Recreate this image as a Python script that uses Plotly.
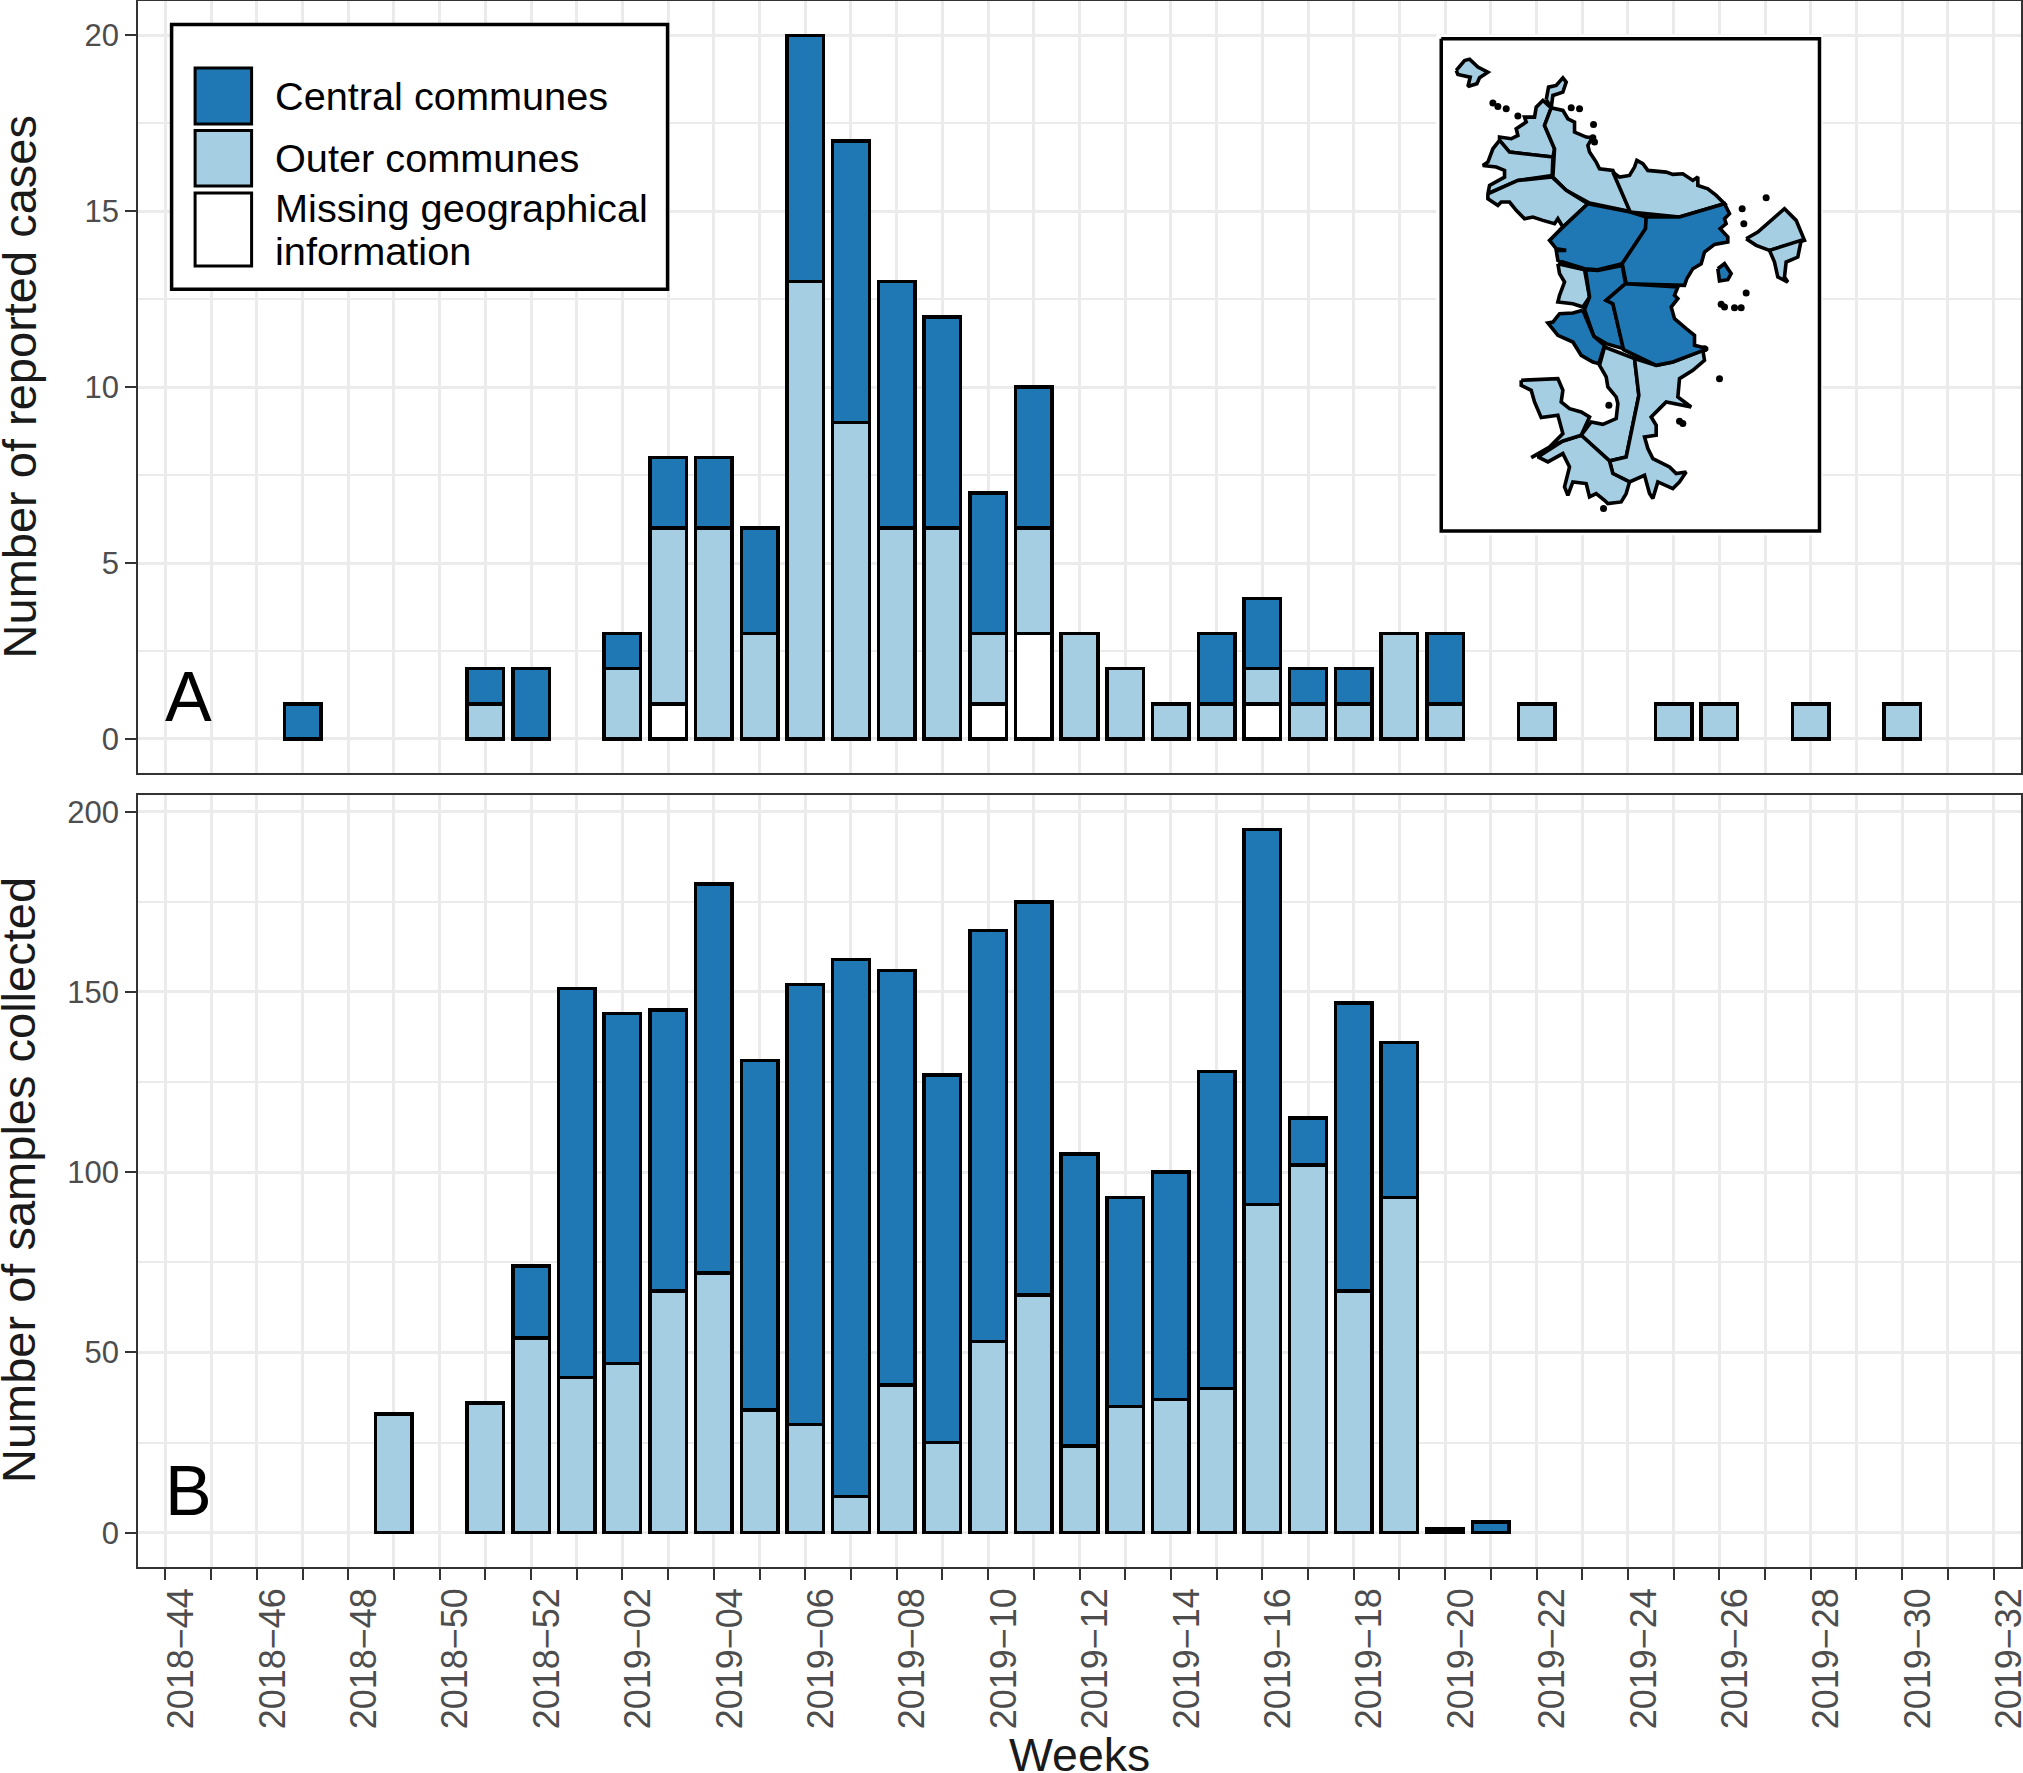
import plotly.graph_objects as go

FIG_W = 2023
FIG_H = 1773
LEFT, RIGHT = 138.4, 2021.5
TOP, BOTTOM = 0.5, 1567.3

DARK = '#1F78B4'
LIGHT = '#A6CEE3'
FONT = 'Liberation Sans'

weeks = ['2018-%d' % w for w in range(44, 53)] + ['2019-%02d' % w for w in range(1, 33)]

# panel A, reported cases per week
cases_missing = [0,0,0,0,0,0,0,0,0,0,0,1,0,0,0,0,0,0,1,3,0,0,0,0,1,0,0,0,0,0,0,0,0,0,0,0,0,0,0,0,0]
cases_outer   = [0,0,0,0,0,0,0,1,0,0,2,5,6,3,13,9,6,6,2,3,3,2,1,1,1,1,1,3,1,0,1,0,0,1,1,0,1,0,1,0,0]
cases_central = [0,0,0,1,0,0,0,1,2,0,1,2,2,3,7,8,7,6,4,4,0,0,0,2,2,1,1,0,2,0,0,0,0,0,0,0,0,0,0,0,0]

# panel B, samples collected per week
samples_outer   = [0,0,0,0,0,33,0,36,54,43,47,67,72,34,30,10,41,25,53,66,24,35,37,40,91,102,67,93,0,0,0,0,0,0,0,0,0,0,0,0,0]
samples_central = [0,0,0,0,0,0,0,0,20,108,97,78,108,97,122,149,115,102,114,109,81,58,63,88,104,13,80,43,1,3,0,0,0,0,0,0,0,0,0,0,0]

y_ticks_a = [0, 5, 10, 15, 20]
y_ticks_b = [0, 50, 100, 150, 200]

legend_labels = ['Central communes', 'Outer communes', 'Missing geographical', 'information']

# inset map, traced in picture units of the inset
map_outer = [
    [(170,150),(195,120),(210,116),(235,140),(265,155),(240,172),(232,190),(205,198),(212,170),(175,162),(170,150)],
    [(300,360),(330,395),(460,410),(465,385),(435,315),(455,262),(430,240),(410,260),(405,290),(375,290),(380,305),(350,325),(355,345),(335,355),(300,350),(300,360)],
    [(440,238),(447,200),(470,195),(490,172),(500,185),(490,215),(460,225),(455,262),(490,270),(505,295),(525,305),(525,335),(560,350),(578,352),(565,375),(570,395),(590,425),(600,445),(640,450),(692,573),(570,548),(500,510),(460,470),(465,385),(435,315),(455,262),(440,238)],
    [(640,455),(660,470),(690,465),(705,440),(712,420),(730,430),(745,450),(775,452),(800,455),(820,462),(850,460),(880,480),(895,470),(895,495),(925,505),(950,525),(975,550),(840,590),(692,575),(640,455)],
    [(300,360),(330,395),(460,410),(458,465),(355,480),(265,520),(270,495),(315,470),(315,450),(290,440),(250,435),(265,425),(280,385),(300,360)],
    [(265,520),(355,480),(458,470),(500,510),(565,550),(480,630),(490,620),(475,595),(465,610),(430,600),(400,590),(375,595),(350,570),(330,545),(305,545),(295,555),(265,535),(265,520)],
    [(475,730),(555,748),(570,830),(550,860),(520,850),(475,845),(480,825),(495,785),(480,760),(475,730)],
    [(615,980),(705,1015),(718,1125),(680,1310),(630,1322),(545,1245),(575,1205),(610,1212),(650,1195),(655,1150),(650,1130),(625,1100),(620,1070),(600,1035),(615,980)],
    [(705,1015),(770,1035),(820,1025),(910,990),(915,1020),(880,1050),(840,1075),(835,1130),(875,1160),(800,1145),(780,1165),(755,1190),(770,1215),(770,1245),(735,1250),(745,1285),(760,1315),(810,1340),(830,1360),(860,1355),(840,1385),(820,1405),(775,1385),(760,1435),(750,1420),(735,1365),(690,1385),(640,1360),(630,1322),(680,1310),(718,1125),(705,1015)],
    [(545,1245),(630,1322),(640,1360),(690,1385),(680,1420),(665,1445),(625,1450),(615,1440),(590,1420),(570,1430),(560,1390),(520,1385),(505,1425),(495,1400),(510,1340),(490,1300),(445,1325),(415,1310),(490,1262),(545,1245)],
    [(365,1080),(475,1075),(490,1110),(485,1145),(510,1165),(545,1175),(570,1190),(545,1245),(490,1262),(395,1312),(450,1280),(490,1240),(475,1185),(425,1192),(405,1145),(395,1110),(365,1095),(365,1080)],
    [(1040,655),(1075,635),(1155,565),(1190,600),(1215,660),(1110,690),(1070,675),(1040,655)],
    [(1110,690),(1205,660),(1195,710),(1160,725),(1155,770),(1165,785),(1135,770),(1125,725),(1110,690)],
]
map_central = [
    [(565,550),(692,575),(740,590),(738,625),(668,730),(595,748),(555,745),(475,720),(470,690),(500,690),(470,685),(450,660),(480,630),(565,550)],
    [(740,590),(840,590),(975,550),(990,580),(975,595),(980,610),(962,625),(985,650),(985,665),(945,672),(915,695),(905,730),(880,745),(862,775),(855,795),(680,790),(668,730),(738,625),(740,590)],
    [(558,748),(595,750),(668,735),(678,790),(620,840),(640,850),(672,985),(620,970),(583,948),(555,868),(570,830),(558,748)],
    [(550,870),(583,948),(615,975),(598,1030),(580,1025),(545,1005),(520,965),(475,945),(445,908),(460,905),(480,880),(520,878),(550,870)],
    [(678,790),(835,800),(825,825),(835,835),(815,860),(825,895),(860,925),(885,945),(885,975),(925,985),(820,1025),(770,1035),(672,988),(640,850),(620,840),(678,790)],
    [(955,745),(975,730),(995,760),(985,778),(960,782),(955,745)],
]
map_islets_x = [280,295,320,355,515,540,582,580,585,1100,1028,1033,1040,965,975,1005,1025,915,960,628,840,850,612]
map_islets_y = [248,258,265,287,262,265,312,352,365,532,565,610,818,852,860,862,862,985,1075,1155,1203,1210,1465]


def px(x):
    return (x - LEFT) / (RIGHT - LEFT)


def py(y):
    return 1 - (y - TOP) / (BOTTOM - TOP)


def rect(x0, y0, x1, y1, fill, width=3):
    return dict(type='rect', xref='paper', yref='paper', layer='above',
                x0=px(x0), x1=px(x1), y0=py(y0), y1=py(y1),
                fillcolor=fill, line=dict(color='black', width=width))


def label(x, y, text, size, color='black', anchor='left', angle=0):
    return dict(xref='paper', yref='paper', x=px(x), y=py(y), text=text, showarrow=False,
                xanchor=anchor, yanchor='middle', textangle=angle,
                font=dict(family=FONT, size=size, color=color))


def bars(values, color, name, xaxis, yaxis):
    return go.Bar(x=list(range(len(weeks))), y=[v if v else None for v in values], width=0.8, name=name,
                  marker=dict(color=color, line=dict(color='black', width=3.5)),
                  xaxis=xaxis, yaxis=yaxis, showlegend=False)


fig = go.Figure()
fig.add_trace(bars(cases_missing, 'white', 'Missing geographical information', 'x', 'y'))
fig.add_trace(bars(cases_outer, LIGHT, 'Outer communes', 'x', 'y'))
fig.add_trace(bars(cases_central, DARK, 'Central communes', 'x', 'y'))
fig.add_trace(bars(samples_outer, LIGHT, 'Outer communes', 'x2', 'y2'))
fig.add_trace(bars(samples_central, DARK, 'Central communes', 'x2', 'y2'))

# inset frame and map
fig.add_trace(go.Scatter(x=[125, 1260, 1260, 125, 125], y=[55, 55, 1532, 1532, 55], mode='lines', fill='toself',
                         fillcolor='white', line=dict(color='black', width=3.5), xaxis='x3', yaxis='y3',
                         hoverinfo='skip', showlegend=False))
for shape_list, color in ((map_outer, LIGHT), (map_central, DARK)):
    for poly in shape_list:
        fig.add_trace(go.Scatter(x=[p[0] for p in poly], y=[p[1] for p in poly], mode='lines', fill='toself',
                                 fillcolor=color, line=dict(color='black', width=3.6), xaxis='x3', yaxis='y3',
                                 hoverinfo='skip', showlegend=False))
fig.add_trace(go.Scatter(x=map_islets_x, y=map_islets_y, mode='markers', marker=dict(color='black', size=7),
                         xaxis='x3', yaxis='y3', hoverinfo='skip', showlegend=False))

x_tickvals = list(range(len(weeks)))
x_ticktext = [w.replace('-', '\u2212') if i % 2 == 0 else '' for i, w in enumerate(weeks)]

common_x = dict(range=[-0.6, 40.6], tickmode='array', tickvals=x_tickvals, showgrid=True, gridcolor='#EBEBEB',
                gridwidth=2.7, showline=True, linecolor='#333333', linewidth=1.5, mirror=True, zeroline=False)
common_y = dict(tickmode='array', showgrid=True, gridcolor='#EBEBEB', gridwidth=2.7, showline=True,
                linecolor='#333333', linewidth=1.5, mirror=True, zeroline=False, ticks='outside', ticklen=11,
                tickwidth=2.2, tickcolor='#333333', tickfont=dict(family=FONT, size=31, color='#4D4D4D'),
                anchor='x')

fig.update_layout(
    width=FIG_W, height=FIG_H, margin=dict(l=LEFT, r=FIG_W - RIGHT, t=TOP, b=FIG_H - BOTTOM, autoexpand=False),
    barmode='stack', paper_bgcolor='white', plot_bgcolor='white', showlegend=False,
    xaxis=dict(common_x, domain=[0, 1], anchor='y', ticks='', showticklabels=False),
    yaxis=dict(common_y, domain=[py(773), 1], range=[-0.97, 20.98], tickvals=y_ticks_a,
               minor=dict(dtick=2.5, tick0=0, showgrid=True, gridcolor='#EBEBEB', gridwidth=1.5, ticks='')),
    xaxis2=dict(common_x, domain=[0, 1], anchor='y2', ticks='outside', ticklen=11, tickwidth=2.2, tickcolor='#333333',
                ticktext=x_ticktext, tickangle=-90, ticklabelshift=16, ticklabelstandoff=-6, ticklabeloverflow='allow',
                tickfont=dict(family=FONT, size=36, color='#4D4D4D')),
    yaxis2=dict(common_y, domain=[0, py(795)], range=[-9.5, 204.6], tickvals=y_ticks_b, anchor='x2',
                minor=dict(dtick=25, tick0=0, showgrid=True, gridcolor='#EBEBEB', gridwidth=1.5, ticks='')),
    xaxis3=dict(domain=[px(1436.7), px(1823.3)], range=[110, 1270], visible=False, anchor='y3'),
    yaxis3=dict(domain=[py(535), py(34)], range=[1545, 42], visible=False, anchor='x3'),
    shapes=[
        rect(172, 24, 668, 289, 'white', width=3.5),
        rect(195.5, 67.5, 252, 123.5, DARK),
        rect(195.5, 130, 252, 185.7, LIGHT),
        rect(195.5, 192.5, 252, 265.6, 'white'),
    ],
    annotations=[
        label(273, 96, legend_labels[0], 39.7),
        label(273, 158, legend_labels[1], 39.7),
        label(273, 208, legend_labels[2], 39.7),
        label(273, 251, legend_labels[3], 39.7),
        label(163, 697, 'A', 70),
        label(163, 1491, 'B', 70),
        label(19.5, 387, 'Number of reported cases', 47, '#1A1A1A', 'center', -90),
        label(19.5, 1180, 'Number of samples collected', 47, '#1A1A1A', 'center', -90),
        label(1080, 1755, 'Weeks', 46.5, '#1A1A1A', 'center'),
    ],
)

fig.write_html("out.html", config={'displayModeBar': False}, post_script="document.body.style.margin='0';")
